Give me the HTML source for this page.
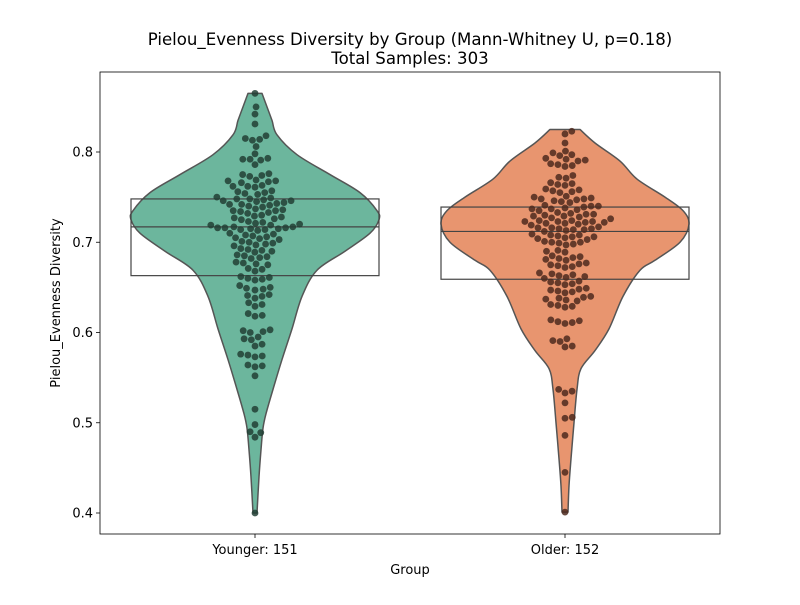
<!DOCTYPE html>
<html><head><meta charset="utf-8">
<style>
body{margin:0;background:#fff;}
svg text{font-family:"DejaVu Sans","Liberation Sans",sans-serif;fill:#000;}
</style></head>
<body>
<svg id="chart" width="800" height="600" xmlns="http://www.w3.org/2000/svg"></svg>
<script>
const categories = ["Younger: 151", "Older: 152"];
const fillColors = ["#6cb69d", "#e8956f"];
const pointColors = ["#223f35", "#4e2a1e"];
const q1 = [0.663, 0.659];
const median = [0.717, 0.712];
const q3 = [0.748, 0.739];
const yTicks = [0.4, 0.5, 0.6, 0.7, 0.8];
const youngerProfileV = [0.400,0.44,0.47,0.494,0.51,0.537,0.57,0.604,0.64,0.669,0.69,0.71,0.725,0.735,0.755,0.775,0.797,0.819,0.835,0.85,0.865];
const youngerProfileD = [2,4,6,8,11,18,27,37,47,62,90,115,124,122,105,75,42,22,17,12,7];
const olderProfileV = [0.401,0.43,0.46,0.50,0.537,0.56,0.58,0.604,0.64,0.669,0.68,0.70,0.72,0.735,0.75,0.77,0.79,0.81,0.825];
const olderProfileD = [3,4,6,9,12,16,30,44,58,75,90,115,124,118,100,72,55,30,15];
const youngerValues = [0.865,0.850,0.842,0.831,0.818,0.815,0.814,0.813,0.806,0.798,0.793,0.792,0.792,0.791,0.786,0.776,0.775,0.774,0.773,0.769,0.768,0.768,0.767,0.766,
0.763,0.762,0.762,0.761,0.757,0.756,0.755,0.754,0.753,0.750,0.749,0.748,0.748,0.747,0.746,0.746,
0.745,0.744,0.743,0.742,0.742,0.741,0.740,0.739,0.737,0.736,0.735,0.735,0.734,0.733,0.732,
0.730,0.729,0.728,0.727,0.726,0.725,0.723,0.722,0.721,0.720,0.719,0.719,
0.717,0.717,0.716,0.716,0.716,0.715,0.715,0.714,0.714,0.713,0.710,0.709,0.708,0.707,0.706,0.705,0.704,0.703,
0.701,0.700,0.699,0.698,0.697,0.696,0.693,0.692,0.691,0.690,0.689,0.686,0.685,0.684,0.683,0.682,
0.678,0.677,0.676,0.675,0.671,0.670,0.668,0.662,0.661,0.660,0.659,0.658,0.652,0.650,0.649,0.648,0.647,
0.642,0.641,0.640,0.638,0.633,0.631,0.629,0.621,0.619,0.618,0.603,0.602,0.601,0.600,0.595,0.593,0.592,
0.587,0.585,0.576,0.575,0.574,0.573,0.564,0.563,0.562,0.552,0.515,0.498,0.490,0.489,0.484,0.400];
const olderValues = [0.823,0.820,0.810,0.801,0.799,0.797,0.796,0.793,0.792,0.791,0.790,0.787,0.786,0.785,0.784,0.774,0.772,0.771,
0.766,0.765,0.764,0.763,0.759,0.758,0.757,0.756,0.755,
0.751,0.750,0.749,0.748,0.748,0.747,0.746,0.745,0.744,
0.741,0.740,0.740,0.739,0.738,0.737,0.737,0.736,0.735,
0.733,0.732,0.731,0.731,0.730,0.729,0.729,0.728,0.727,0.726,
0.724,0.724,0.723,0.723,0.723,0.722,0.722,0.721,0.721,0.720,0.719,
0.717,0.716,0.716,0.715,0.715,0.714,0.714,0.713,0.712,
0.709,0.708,0.708,0.707,0.706,0.706,0.705,0.704,0.703,
0.701,0.700,0.700,0.699,0.698,0.697,0.691,0.690,0.689,
0.685,0.684,0.683,0.682,0.681,0.680,0.677,0.676,0.675,0.674,0.673,0.672,
0.666,0.665,0.664,0.663,0.662,0.661,0.660,0.657,0.656,0.655,0.654,0.653,
0.649,0.648,0.647,0.646,0.645,0.644,0.640,0.639,0.638,0.637,0.636,0.635,
0.631,0.630,0.629,0.628,0.614,0.613,0.612,0.611,0.610,
0.593,0.591,0.590,0.585,0.584,0.537,0.535,0.533,0.522,0.506,0.505,0.486,0.445,0.401];

const NS = "http://www.w3.org/2000/svg";
const svg = document.getElementById("chart");
const L = 100, R = 720, T = 72, B = 534;
function y(v){ return 513 - (v - 0.4) * 902.5; }
function xc(i){ return L + (i + 0.5) * (R - L) / categories.length; }
function mk(tag, attrs, parent){
  const e = document.createElementNS(NS, tag);
  for (const k in attrs) e.setAttribute(k, attrs[k]);
  (parent || svg).appendChild(e);
  return e;
}
function smooth(pts){
  let s = "";
  for (let k = 0; k < pts.length - 1; k++){
    const p0 = pts[Math.max(0, k - 1)], p1 = pts[k], p2 = pts[k + 1], p3 = pts[Math.min(pts.length - 1, k + 2)];
    const c1 = [p1[0] + (p2[0] - p0[0]) / 6, p1[1] + (p2[1] - p0[1]) / 6];
    const c2 = [p2[0] - (p3[0] - p1[0]) / 6, p2[1] - (p3[1] - p1[1]) / 6];
    s += " C" + c1[0] + "," + c1[1] + " " + c2[0] + "," + c2[1] + " " + p2[0] + "," + p2[1];
  }
  return s;
}
const profiles = [[youngerProfileV, youngerProfileD], [olderProfileV, olderProfileD]];
const values = [youngerValues, olderValues];

for (let i = 0; i < categories.length; i++){
  const cx = xc(i);
  const g = mk("g", {});
  
  
  const [pv, pd] = profiles[i];
  const right = [], left = [];
  for (let k = 0; k < pv.length; k++){
    right.push([cx + pd[k], y(pv[k])]);
    left.unshift([cx - pd[k], y(pv[k])]);
  }
  const d_ = "M" + right[0][0] + "," + right[0][1] + smooth(right) + " L" + left[0][0] + "," + left[0][1] + smooth(left) + " Z";
  const vio = mk("path", {d: d_, fill: fillColors[i], stroke: "#555", "stroke-width": 1.5, "stroke-linejoin": "round"}, g);
  
  
  const bw = 124;
  const box = mk("rect", {x: cx - bw, y: y(q3[i]), width: 2 * bw, height: y(q1[i]) - y(q3[i]), fill: "none", stroke: "#444", "stroke-width": 1.2}, g);
  
  
  const med = mk("line", {x1: cx - bw, x2: cx + bw, y1: y(median[i]), y2: y(median[i]), stroke: "#444", "stroke-width": 1.2}, g);
  
  
  const d = 7.3;
  const vals = values[i].slice().sort((a, b) => a - b);
  const placed = [];
  for (const v of vals){
    const py = y(v);
    const nb = placed.filter(p => Math.abs(p[1] - py) < d);
    let cands = [0];
    for (const p of nb){
      const dx = Math.sqrt(d * d - (p[1] - py) ** 2);
      cands.push(p[0] + dx, p[0] - dx);
    }
    cands.sort((a, b) => Math.abs(a) - Math.abs(b));
    let px = 0;
    for (const c of cands){
      if (nb.every(p => (p[0] - c) ** 2 + (p[1] - py) ** 2 >= d * d - 0.01)){ px = c; break; }
    }
    placed.push([px, py]);
    const dot = mk("circle", {cx: cx + px, cy: py, r: 3.4, fill: pointColors[i], "fill-opacity": 0.85}, g);
    
    
  }
  const xt = mk("line", {x1: cx, x2: cx, y1: B, y2: B + 4, stroke: "#000", "stroke-width": 0.8});
  
  
  const xl = mk("text", {x: cx, y: B + 20, "text-anchor": "middle", "font-size": "13px"});
  xl.textContent = categories[i];
  
  
}
for (const t of yTicks){
  const tk = mk("line", {x1: L - 4, x2: L, y1: y(t), y2: y(t), stroke: "#000", "stroke-width": 0.8});
  
  
  const tl = mk("text", {x: L - 7, y: y(t) + 4.5, "text-anchor": "end", "font-size": "13px"});
  tl.textContent = t.toFixed(1);
  
  
}
const frame = mk("rect", {x: L, y: T, width: R - L, height: B - T, fill: "none", stroke: "#000", "stroke-width": 0.8});


const t1 = mk("text", {x: 410, y: 45, "text-anchor": "middle", "font-size": "16.6px"});
t1.textContent = "Pielou_Evenness Diversity by Group (Mann-Whitney U, p=0.18)";


const t2 = mk("text", {x: 410, y: 64, "text-anchor": "middle", "font-size": "16.6px"});
t2.textContent = "Total Samples: 303";


const xa = mk("text", {x: 410, y: 574, "text-anchor": "middle", "font-size": "13px"});
xa.textContent = "Group";


const ya = mk("text", {x: 0, y: 0, "text-anchor": "middle", "font-size": "13px", transform: "translate(60,303) rotate(-90)"});
ya.textContent = "Pielou_Evenness Diversity";


</script>
</body></html>
